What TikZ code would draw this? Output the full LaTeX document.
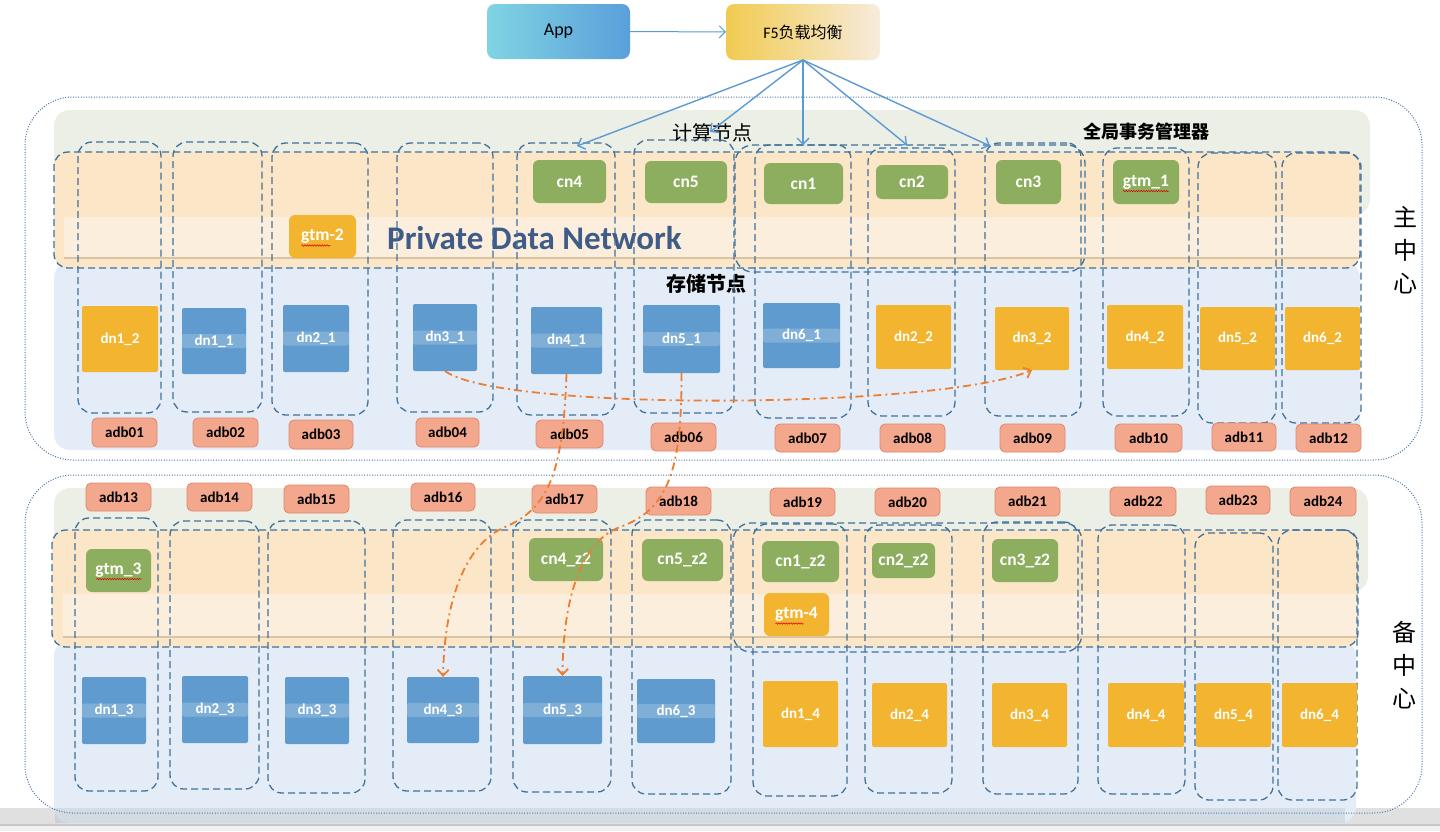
\documentclass[tikz,border=0pt]{standalone}
\usepackage{fontspec}
\setmainfont{Carlito}
\newfontfamily\cjk{Noto Sans CJK SC}
\usetikzlibrary{arrows.meta,decorations.pathmorphing}
\definecolor{dashc}{HTML}{41719C}
\definecolor{dotc}{HTML}{4A76A8}
\definecolor{gpanel}{HTML}{ECEFE5}
\definecolor{oband}{HTML}{FBE6C8}
\definecolor{pdn}{HTML}{FCEEDD}
\definecolor{pdnsh}{HTML}{D9C4A4}
\definecolor{bpanel}{HTML}{E4EDF7}
\definecolor{cng}{HTML}{8DAE5E}
\definecolor{orn}{HTML}{F3B52F}
\definecolor{bln}{HTML}{5F9BCE}
\definecolor{adbf}{HTML}{F3A88E}
\definecolor{adbd}{HTML}{E0866A}
\definecolor{arrb}{HTML}{5B9BD5}
\definecolor{arro}{HTML}{ED7D31}
\definecolor{pdnt}{HTML}{3F5B88}
\definecolor{appl}{HTML}{80D4E2}
\definecolor{appr}{HTML}{5A9FDB}
\definecolor{f5l}{HTML}{F1CB50}
\definecolor{f5m}{HTML}{EBCB6A}
\definecolor{f5r}{HTML}{F7EBDD}
\newcommand\bx[7]{\node[#1,minimum width={(#5-#3)*1pt},minimum height={(#6-#4)*1pt}] (#2) at ({(#3+#5)/2},{(#4+#6)/2}) {#7};}
\tikzset{
  box/.style={rectangle,inner sep=0pt,outer sep=0pt},
  panel/.style={box},
  cn/.style={box,fill=cng,rounded corners=6pt,text=white,font=\fontsize{17.5}{19}\selectfont\bfseries},
  gtmo/.style={cn,fill=orn},
  dno/.style={box,fill=orn,rounded corners=2pt,text=white,font=\fontsize{15}{17}\selectfont\bfseries},
  dnb/.style={dno,fill=bln,path picture={\fill[white,opacity=0.2] ([yshift=-7pt]path picture bounding box.west) rectangle ([yshift=7pt]path picture bounding box.east);}},
  adb/.style={box,fill=adbf,draw=adbd,line width=0.8pt,rounded corners=5pt,font=\fontsize{15}{17}\selectfont\bfseries},
  col/.style={box,draw=dashc,line width=1.3pt,dash pattern=on 7pt off 4pt,rounded corners=14pt},
  outer/.style={box,draw=dotc,line width=1pt,dash pattern=on 1pt off 1.6pt,rounded corners=48pt},
  barr/.style={draw=arrb,line width=1.4pt,-{Straight Barb[length=6pt,width=12pt]}},
  oarr/.style={draw=arro,line width=1.8pt,dash pattern=on 8pt off 4pt on 2pt off 4pt,-{Straight Barb[length=6pt,width=11pt]}},
  squig/.style={draw=red!85!black,line width=0.5pt,decorate,decoration={snake,amplitude=0.7pt,segment length=2.5pt}},
  vlab/.style={font=\cjk\fontsize{24}{33}\selectfont,align=center},
}
\begin{document}
\begin{tikzpicture}[x=1pt,y=-1pt]
\useasboundingbox (0,0) rectangle (1440,831);
\fill[white] (0,0) rectangle (1440,831);
\fill[black!12] (0,808) rectangle (1440,824);
\fill[black!6] (0,826) rectangle (1440,831);
\draw[black!22,line width=1.5pt] (0,825) -- (1440,825);

% ---------- top ----------
\bx{box,rounded corners=8pt,left color=appl,right color=appr,font=\fontsize{18}{20}\selectfont}{app}{487}{4}{630}{59}{App}
\bx{box,rounded corners=8pt,left color=f5l,middle color=f5m,right color=f5r,font=\fontsize{16}{19}\selectfont}{f5}{726}{4}{880}{60}{F5{\cjk 负载均衡}}

% ---------- main centre panels ----------
\bx{panel,fill=gpanel,rounded corners=16pt}{mgp}{54}{110}{1370}{215}{}
\bx{panel,fill=bpanel,rounded corners=16pt}{mbp}{54}{262}{1360}{450}{}
\bx{panel,fill=oband,rounded corners=14pt}{mob}{54}{152}{1360}{268}{}
\bx{panel,fill=pdn}{mpdn}{64}{217}{1360}{258}{}
\draw[pdnsh,line width=2pt] (mpdn.south west) -- (mpdn.south east);

% ---------- backup centre panels ----------
\bx{panel,fill=gpanel,rounded corners=16pt}{bgp}{54}{488}{1368}{592}{}
\bx{panel,fill=bpanel,rounded corners=16pt}{bbp}{54}{640}{1356}{823}{}
\fill[black,opacity=0.07] (55,808) rectangle (1345,823);
\bx{panel,fill=oband,rounded corners=14pt}{bob}{52}{530}{1358}{647}{}
\bx{panel,fill=pdn}{bpdn}{63}{594}{1358}{637}{}
\draw[pdnsh,line width=2pt] (bpdn.south west) -- (bpdn.south east);

% ---------- texts ----------
\node[font=\cjk\fontsize{20}{22}\selectfont] (hcalc) at (712,133) {计算节点};
\node[font=\cjk\fontsize{18}{20}\selectfont\bfseries] (hgtm) at (1146,132) {全局事务管理器};
\node[font=\cjk\fontsize{20}{22}\selectfont\bfseries] (hstore) at (706,284) {存储节点};
\node[font=\fontsize{33}{36}\selectfont\bfseries,text=pdnt,anchor=west,inner sep=0pt] (pdnlab) at (387,238) {Private Data Network};
\node[vlab] (zhu) at (1405,250) {主\\中\\心};
\node[vlab] (bei) at (1404,665) {备\\中\\心};

% ---------- dashed group boxes ----------
\bx{col}{mgrp}{54}{152}{1360}{268}{}
\bx{col,rounded corners=18pt}{mcng}{735}{145}{1085}{272}{}
\bx{col}{bgrp}{52}{530}{1358}{647}{}
\bx{col,rounded corners=18pt}{bcng}{733}{523}{1082}{652}{}

\bx{col}{mc1}{78}{142}{161}{413}{}
\bx{col}{mc2}{173}{142}{262}{412}{}
\bx{col}{mc3}{272}{143}{368}{415}{}
\bx{col}{mc4}{397}{143}{493}{412}{}
\bx{col}{mc5}{517}{143}{615}{415}{}
\bx{col}{mc6}{634}{140}{734}{413}{}
\bx{col}{mc7}{755}{145}{851}{418}{}
\bx{col}{mc8}{868}{148}{955}{416}{}
\bx{col}{mc9}{985}{143}{1081}{416}{}
\bx{col}{mc10}{1103}{148}{1189}{416}{}
\bx{col}{mc11}{1198}{153}{1276}{423}{}
\bx{col}{mc12}{1282}{153}{1361}{423}{}

\bx{col}{bc1}{75}{518}{158}{791}{}
\bx{col}{bc2}{170}{521}{259}{789}{}
\bx{col}{bc3}{268}{521}{365}{793}{}
\bx{col}{bc4}{393}{520}{491}{791}{}
\bx{col}{bc5}{513}{520}{611}{792}{}
\bx{col}{bc6}{632}{520}{731}{794}{}
\bx{col}{bc7}{753}{524}{847}{796}{}
\bx{col}{bc8}{865}{525}{952}{793}{}
\bx{col}{bc9}{983}{522}{1078}{794}{}
\bx{col}{bc10}{1098}{525}{1185}{794}{}
\bx{col}{bc11}{1195}{533}{1273}{800}{}
\bx{col}{bc12}{1278}{530}{1357}{800}{}

% ---------- outer dotted ----------
\bx{outer}{mainbox}{25}{97}{1422}{460}{}
\bx{outer}{backbox}{25}{475}{1422}{813}{}

% ---------- main nodes ----------
\bx{cn}{cn4}{533}{160}{606}{203}{cn4}
\bx{cn}{cn5}{645}{161}{727}{203}{cn5}
\bx{cn}{cn1}{764}{163}{843}{204}{cn1}
\bx{cn}{cn2}{876}{165}{948}{199}{cn2}
\bx{cn}{cn3}{996}{160}{1061}{204}{cn3}
\bx{cn}{gtm1}{1113}{160}{1179}{204}{gtm\_1}
\bx{gtmo}{gtm2}{289}{215}{356}{258}{gtm-2}

\bx{dno}{dn12}{82}{306}{158}{372}{dn1\_2}
\bx{dnb}{dn11}{182}{308}{246}{374}{dn1\_1}
\bx{dnb}{dn21}{283}{305}{349}{372}{dn2\_1}
\bx{dnb}{dn31}{413}{304}{477}{371}{dn3\_1}
\bx{dnb}{dn41}{531}{307}{602}{374}{dn4\_1}
\bx{dnb}{dn51}{643}{305}{720}{373}{dn5\_1}
\bx{dnb}{dn61}{763}{303}{840}{368}{dn6\_1}
\bx{dno}{dn22}{876}{305}{951}{369}{dn2\_2}
\bx{dno}{dn32}{995}{307}{1069}{370}{dn3\_2}
\bx{dno}{dn42}{1107}{305}{1183}{369}{dn4\_2}
\bx{dno}{dn52}{1200}{307}{1275}{370}{dn5\_2}
\bx{dno}{dn62}{1285}{307}{1360}{370}{dn6\_2}

\bx{adb}{adb01}{92}{418}{157}{447}{adb01}
\bx{adb}{adb02}{193}{418}{258}{447}{adb02}
\bx{adb}{adb03}{289}{420}{353}{449}{adb03}
\bx{adb}{adb04}{416}{418}{479}{447}{adb04}
\bx{adb}{adb05}{536}{420}{603}{448}{adb05}
\bx{adb}{adb06}{651}{423}{716}{451}{adb06}
\bx{adb}{adb07}{775}{424}{840}{452}{adb07}
\bx{adb}{adb08}{880}{424}{945}{452}{adb08}
\bx{adb}{adb09}{1000}{424}{1065}{452}{adb09}
\bx{adb}{adb10}{1115}{424}{1182}{452}{adb10}
\bx{adb}{adb11}{1212}{423}{1276}{451}{adb11}
\bx{adb}{adb12}{1296}{424}{1361}{452}{adb12}

% ---------- backup nodes ----------
\bx{adb}{adb13}{86}{483}{151}{511}{adb13}
\bx{adb}{adb14}{187}{483}{252}{511}{adb14}
\bx{adb}{adb15}{284}{485}{349}{513}{adb15}
\bx{adb}{adb16}{411}{483}{475}{511}{adb16}
\bx{adb}{adb17}{532}{485}{597}{513}{adb17}
\bx{adb}{adb18}{646}{487}{711}{515}{adb18}
\bx{adb}{adb19}{770}{488}{835}{516}{adb19}
\bx{adb}{adb20}{875}{488}{940}{516}{adb20}
\bx{adb}{adb21}{995}{487}{1060}{516}{adb21}
\bx{adb}{adb22}{1110}{487}{1176}{516}{adb22}
\bx{adb}{adb23}{1206}{486}{1270}{514}{adb23}
\bx{adb}{adb24}{1290}{487}{1356}{516}{adb24}

\bx{cn}{gtm3}{86}{549}{151}{592}{gtm\_3}
\bx{cn}{cn4z}{529}{538}{603}{581}{cn4\_z2}
\bx{cn}{cn5z}{642}{539}{723}{581}{cn5\_z2}
\bx{cn}{cn1z}{762}{541}{839}{582}{cn1\_z2}
\bx{cn}{cn2z}{872}{543}{935}{578}{cn2\_z2}
\bx{cn}{cn3z}{992}{539}{1058}{582}{cn3\_z2}
\bx{gtmo}{gtm4}{764}{593}{829}{636}{gtm-4}

\bx{dnb}{dn13}{82}{677}{146}{744}{dn1\_3}
\bx{dnb}{dn23}{182}{676}{248}{743}{dn2\_3}
\bx{dnb}{dn33}{285}{677}{349}{744}{dn3\_3}
\bx{dnb}{dn43}{407}{677}{479}{743}{dn4\_3}
\bx{dnb}{dn53}{523}{676}{602}{744}{dn5\_3}
\bx{dnb}{dn63}{637}{679}{715}{743}{dn6\_3}
\bx{dno}{dn14}{763}{681}{838}{747}{dn1\_4}
\bx{dno}{dn24}{872}{683}{947}{747}{dn2\_4}
\bx{dno}{dn34}{992}{683}{1067}{747}{dn3\_4}
\bx{dno}{dn44}{1108}{683}{1184}{747}{dn4\_4}
\bx{dno}{dn54}{1196}{683}{1271}{747}{dn5\_4}
\bx{dno}{dn64}{1282}{683}{1357}{747}{dn6\_4}

% spell-check squiggles
\draw[squig] ([xshift=-23pt,yshift=-9pt]gtm1.center) -- ([xshift=23pt,yshift=-9pt]gtm1.center);
\draw[squig] ([xshift=-21pt,yshift=-9pt]gtm2.center) -- ([xshift=8pt,yshift=-9pt]gtm2.center);
\draw[squig] ([xshift=-22pt,yshift=-8.5pt]gtm3.center) -- ([xshift=23pt,yshift=-8.5pt]gtm3.center);
\draw[squig] ([xshift=-21pt,yshift=-9pt]gtm4.center) -- ([xshift=7pt,yshift=-9pt]gtm4.center);

% ---------- arrows ----------
\draw[barr,line width=1pt] (app) -- (f5);
\coordinate (t4) at (577,146);
\coordinate (t5) at (710,132);
\coordinate (t1) at (803,145);
\coordinate (t2) at (907,145);
\coordinate (t3) at (990,146);
\draw[barr] (f5.south) -- (t4);
\draw[barr] (f5.south) -- (t5);
\draw[barr] (f5.south) -- (t1);
\draw[barr] (f5.south) -- (t2);
\draw[barr] (f5.south) -- (t3);

\draw[oarr] (dn31.south) .. controls (500,412) and (940,409) .. (dn32.south);
\draw[oarr] (dn41.south) .. controls (563,470) and (550,508) .. (505,527) .. controls (470,542) and (445,590) .. (dn43.north);
\draw[oarr] (dn51.south) .. controls (682,470) and (668,510) .. (620,527) .. controls (585,540) and (563,590) .. (dn53.north);
\end{tikzpicture}
\end{document}
